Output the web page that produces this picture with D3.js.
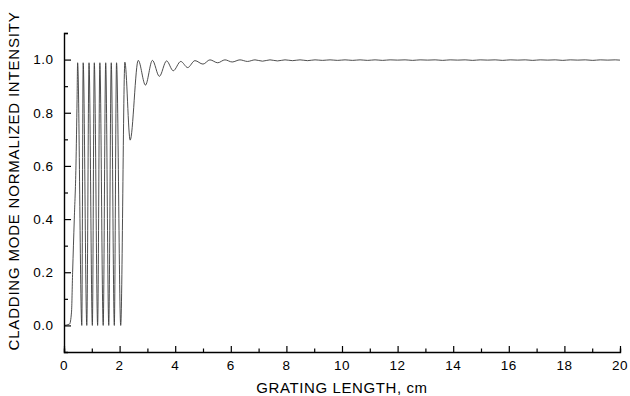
<!DOCTYPE html>
<html>
<head>
<meta charset="utf-8">
<script src="https://cdn.jsdelivr.net/npm/d3@7"></script>
<style>
  body { margin: 0; background: white; }
  text { font-family: "Liberation Sans", Arial, sans-serif; fill: #000; }
</style>
</head>
<body>
<svg id="chart"></svg>
<script>
// grating length (cm) and cladding mode normalized intensity
var lengthCm = [
  0, 0.2, 0.27, 0.31, 0.37, 0.43, 0.47, 0.49,
  0.64, 0.69, 0.82, 0.90, 1.02, 1.09, 1.21, 1.29, 1.41, 1.50, 1.61, 1.70, 1.81, 1.89, 2.04,
  2.19, 2.38, 2.67, 2.93, 3.18, 3.43, 3.69, 3.93, 4.20, 4.45, 4.71, 5.00, 5.25, 5.53, 5.79, 6.05,
  6.33, 6.60, 6.87, 7.14, 7.41, 7.68, 7.95, 8.22, 8.49, 8.76, 9.03, 9.30, 9.57, 9.84,
  10.11, 10.38, 10.65, 10.92, 11.19, 11.46, 11.73, 12.00, 12.27, 12.54, 12.81, 13.08, 13.35, 13.62,
  13.89, 14.16, 14.43, 14.70, 14.97, 15.24, 15.51, 15.78, 16.05, 16.32, 16.59, 16.86, 17.13, 17.40,
  17.67, 17.94, 18.21, 18.48, 18.75, 19.02, 19.29, 19.56, 19.83, 20.00
];
var intensity = [
  0, 0.005, 0.05, 0.2, 0.4, 0.6, 0.85, 0.988,
  0, 0.988, 0, 0.988, 0, 0.988, 0, 0.988, 0, 0.988, 0, 0.988, 0, 0.988, 0,
  0.99, 0.697, 0.997, 0.904, 0.997, 0.937, 0.995, 0.958, 0.993, 0.970, 0.996, 0.983, 0.999, 0.988, 0.999, 0.991,
  0.999, 0.993, 0.999, 0.994, 0.999, 0.995, 0.999, 0.996, 0.999, 0.996, 0.999, 0.997, 0.999, 0.997,
  0.999, 0.997, 0.999, 0.997, 0.999, 0.997, 0.999, 0.998, 0.999, 0.997, 0.999, 0.998, 0.999, 0.997,
  0.999, 0.998, 0.999, 0.997, 0.999, 0.998, 0.999, 0.997, 0.999, 0.998, 0.999, 0.997, 0.999, 0.998,
  0.999, 0.997, 0.999, 0.998, 0.999, 0.997, 0.999, 0.998, 0.999, 0.998
];
var xTicks = [0, 2, 4, 6, 8, 10, 12, 14, 16, 18, 20];
var yTicks = [0.0, 0.2, 0.4, 0.6, 0.8, 1.0];

var width = 630, height = 396;
var plotLeft = 64, plotRight = 620, plotTop = 33, plotBottom = 352;

var svg = d3.select("#chart").attr("width", width).attr("height", height);

var x = d3.scaleLinear().domain([0, 20]).range([plotLeft, plotRight]);
var y = d3.scaleLinear().domain([-0.1, 1.1]).range([plotBottom, plotTop]);

// curve
var points = lengthCm.map(function(d, i) { return [d, intensity[i]]; });
var line = d3.line()
  .x(function(d) { return x(d[0]); })
  .y(function(d) { return y(d[1]); })
  .curve(d3.curveMonotoneX);

svg.append("path")
  .datum(points)
  .attr("d", line)
  .attr("fill", "none")
  .attr("stroke", "#3a3a3a")
  .attr("stroke-width", 0.9);

// x axis (ticks point inward)
var xAxis = svg.append("g").attr("transform", "translate(0," + plotBottom + ")");
xAxis.call(d3.axisBottom(x).tickValues(d3.range(0, 21, 1)).tickSize(-3.5).tickFormat(""));
xAxis.call(function(g) {
  g.selectAll(".tick line").filter(function(d) { return xTicks.indexOf(d) >= 0; }).attr("y2", -6);
  g.select(".domain").attr("stroke-width", 1.4);
  g.selectAll(".tick line").attr("stroke-width", 1.2);
});
xAxis.selectAll(".xlab")
  .data(xTicks)
  .enter().append("text")
  .attr("x", function(d) { return x(d); })
  .attr("y", 17.5)
  .attr("text-anchor", "middle")
  .style("font-size", "13.5px")
  .style("letter-spacing", "0.5px")
  .text(function(d) { return d; });

// y axis
var yMinor = d3.range(0, 12, 1).map(function(v) { return v / 10; });
var yAxis = svg.append("g").attr("transform", "translate(" + plotLeft + ",0)");
yAxis.call(d3.axisLeft(y).tickValues(yMinor).tickSize(-4).tickFormat(""));
yAxis.call(function(g) {
  g.selectAll(".tick line").filter(function(d) { return yTicks.indexOf(d) >= 0; }).attr("x2", 7);
  g.select(".domain").attr("stroke-width", 1.4);
  g.selectAll(".tick line").attr("stroke-width", 1.2);
});
yAxis.selectAll(".ylab")
  .data(yTicks)
  .enter().append("text")
  .attr("x", -10.5)
  .attr("y", function(d) { return y(d); })
  .attr("dy", "0.36em")
  .attr("text-anchor", "end")
  .style("font-size", "13.5px")
  .style("letter-spacing", "0.5px")
  .text(function(d) { return d.toFixed(1); });

// axis titles
svg.append("text")
  .attr("x", x(10))
  .attr("y", 393)
  .attr("text-anchor", "middle")
  .style("font-size", "15px")
  .style("letter-spacing", "0.6px")
  .text("GRATING LENGTH, cm");

svg.append("text")
  .attr("transform", "translate(19,181) rotate(-90)")
  .attr("text-anchor", "middle")
  .style("font-size", "15px")
  .style("letter-spacing", "0.8px")
  .text("CLADDING MODE NORMALIZED INTENSITY");
</script>
</body>
</html>
